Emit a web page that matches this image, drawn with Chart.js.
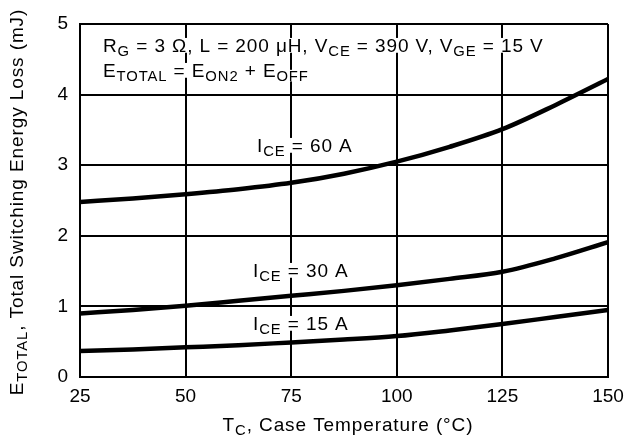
<!DOCTYPE html>
<html>
<head>
<meta charset="utf-8">
<script src="https://cdn.jsdelivr.net/npm/chart.js@4.4.1/dist/chart.umd.min.js"></script>
<style>
  html, body { margin: 0; padding: 0; background: #fff; }
  #wrap { width: 626px; height: 442px; }
</style>
</head>
<body>
<div id="wrap"><canvas id="myChart"></canvas></div>
<script>
const temps = [25, 37.5, 50, 62.5, 75, 87.5, 100, 112.5, 125, 137.5, 150];
const ice60 = [2.48, 2.53, 2.59, 2.66, 2.75, 2.88, 3.05, 3.26, 3.51, 3.85, 4.22];
const ice30 = [0.90, 0.95, 1.01, 1.08, 1.15, 1.22, 1.30, 1.39, 1.49, 1.68, 1.91];
const ice15 = [0.37, 0.39, 0.42, 0.45, 0.49, 0.53, 0.58, 0.66, 0.75, 0.85, 0.95];
const xTicks = [25, 50, 75, 100, 125, 150];
const yTicks = [0, 1, 2, 3, 4, 5];

const FONT = '"Liberation Sans", Arial, Helvetica, sans-serif';
const SIZE = 19;

// draw text made of [text, isSub] parts, white box behind each part
function drawRich(c, x, y, parts, size) {
  let cx = x;
  c.letterSpacing = '0.9px';
  parts.forEach(([t, sub]) => {
    const fs = sub ? size * 0.78 : size;
    const dy = sub ? size * 0.2 : 0;
    c.font = fs + 'px ' + FONT;
    const w = c.measureText(t).width;
    c.fillStyle = '#fff';
    c.fillRect(cx, y + dy - fs * 0.74, w, fs * 0.78);
    c.fillStyle = '#000';
    c.fillText(t, cx, y + dy);
    cx += w;
  });
  return cx - x;
}

function richWidth(c, parts, size) {
  let w = 0;
  c.letterSpacing = '0.9px';
  parts.forEach(([t, sub]) => {
    c.font = (sub ? size * 0.78 : size) + 'px ' + FONT;
    w += c.measureText(t).width;
  });
  return w;
}

const textPlugin = {
  id: 'richText',
  beforeDatasetsDraw(chart) {
    const c = chart.ctx;
    c.save();
    c.textBaseline = 'alphabetic';
    c.textAlign = 'left';
    drawRich(c, 103, 52, [['R'], ['G', 1], [' = 3 Ω, L = 200 μH, V'], ['CE', 1], [' = 390 V, V'], ['GE', 1], [' = 15 V']], SIZE);
    drawRich(c, 103, 77, [['E'], ['TOTAL', 1], [' = E'], ['ON2', 1], [' + E'], ['OFF', 1]], SIZE);
    drawRich(c, 257, 152, [['I'], ['CE', 1], [' = 60 A']], SIZE);
    drawRich(c, 253, 277, [['I'], ['CE', 1], [' = 30 A']], SIZE);
    drawRich(c, 253, 330, [['I'], ['CE', 1], [' = 15 A']], SIZE);
    c.restore();
  },
  afterDraw(chart) {
    const c = chart.ctx;
    c.save();
    c.textBaseline = 'alphabetic';
    c.textAlign = 'left';
    // x axis title
    const xt = [['T'], ['C', 1], [', Case Temperature (°C)']];
    const xw = richWidth(c, xt, SIZE);
    drawRich(c, 348 - xw / 2, 431, xt, SIZE);
    // y axis title
    const yt = [['E'], ['TOTAL', 1], [', Total Switching Energy Loss (mJ)']];
    const yw = richWidth(c, yt, SIZE);
    c.translate(23, 202);
    c.rotate(-Math.PI / 2);
    drawRich(c, -yw / 2, 0, yt, SIZE);
    c.restore();
  }
};

const ctx = document.getElementById('myChart');

const lineStyle = {
  borderColor: '#000',
  borderWidth: 4.5,
  pointRadius: 0,
  fill: false,
  cubicInterpolationMode: 'monotone'
};

new Chart(ctx, {
  type: 'line',
  data: {
    datasets: [
      { label: 'ICE = 60 A', data: temps.map((t, i) => ({ x: t, y: ice60[i] })), ...lineStyle },
      { label: 'ICE = 30 A', data: temps.map((t, i) => ({ x: t, y: ice30[i] })), ...lineStyle },
      { label: 'ICE = 15 A', data: temps.map((t, i) => ({ x: t, y: ice15[i] })), ...lineStyle }
    ]
  },
  options: {
    responsive: true,
    maintainAspectRatio: false,
    animation: false,
    layout: { padding: { left: 0, top: 24, right: 18, bottom: 0 } },
    scales: {
      x: {
        type: 'linear',
        min: 25,
        max: 150,
        afterBuildTicks: (s) => { s.ticks = xTicks.map(v => ({ value: v })); },
        afterFit: (s) => { s.height = 65; s.paddingLeft = 0; s.paddingRight = 0; },
        grid: { color: '#000', lineWidth: 2, drawTicks: false },
        border: { color: '#000', width: 2 },
        ticks: { color: '#000', padding: 8, font: { family: FONT, size: SIZE } }
      },
      y: {
        min: 0,
        max: 5,
        afterBuildTicks: (s) => { s.ticks = yTicks.map(v => ({ value: v })); },
        afterFit: (s) => { s.width = 80; s.paddingTop = 0; s.paddingBottom = 0; },
        grid: { color: '#000', lineWidth: 2, drawTicks: false },
        border: { color: '#000', width: 2 },
        ticks: { color: '#000', padding: 12, font: { family: FONT, size: SIZE } }
      }
    },
    plugins: {
      legend: { display: false },
      title: { display: false },
      tooltip: { enabled: false }
    }
  },
  plugins: [textPlugin]
});
</script>
</body>
</html>
